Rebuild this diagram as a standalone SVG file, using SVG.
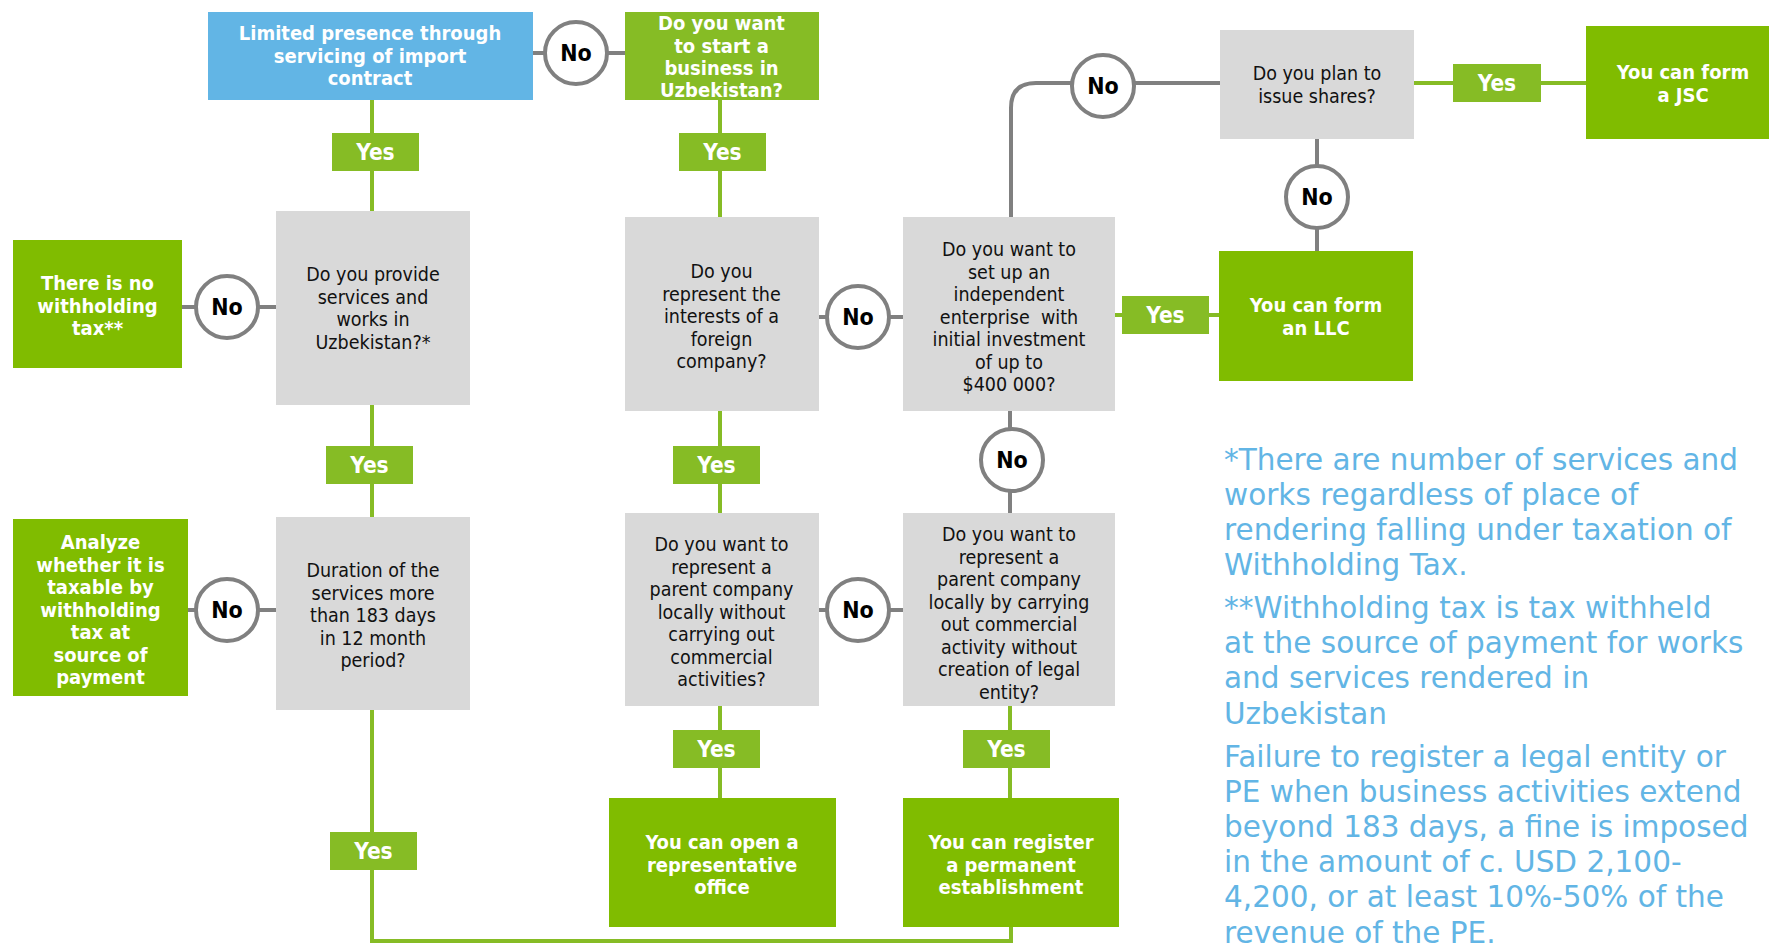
<svg xmlns="http://www.w3.org/2000/svg" width="1769" height="944" viewBox="0 0 1769 944">
<style>
.bg{fill:#ffffff}
.gq{fill:#D9D9D9}
.gr{fill:#80BC00}
.gl{fill:#86BC25}
.bl{fill:#62B5E5}
.lg{stroke:#808080;stroke-width:4;fill:none}
.lgn{stroke:#86BC25;stroke-width:4;fill:none}
.circ{fill:#ffffff;stroke:#808080;stroke-width:4}
.q{font-family:'DejaVu Sans Condensed','DejaVu Sans',sans-serif;font-size:19.5px;fill:#111111;text-anchor:middle}
.b{font-family:'DejaVu Sans Condensed','DejaVu Sans',sans-serif;font-weight:bold;font-size:20px;fill:#ffffff;text-anchor:middle}
.yes{font-family:'DejaVu Sans Condensed','DejaVu Sans',sans-serif;font-weight:bold;font-size:22.5px;fill:#ffffff;text-anchor:middle}
.no{font-family:'DejaVu Sans Condensed','DejaVu Sans',sans-serif;font-weight:bold;font-size:23px;fill:#000000;text-anchor:middle}
.note{font-family:'DejaVu Sans',sans-serif;font-size:29.5px;fill:#62B5E5}
</style>
<rect class="bg" x="0" y="0" width="1769" height="944"/>

<g id="connectors">
  <line class="lg" x1="533" y1="53" x2="625" y2="53"/>
  <line class="lgn" x1="372" y1="100" x2="372" y2="211"/>
  <line class="lgn" x1="720" y1="100" x2="720" y2="217"/>
  <line class="lg" x1="182" y1="307" x2="276" y2="307"/>
  <line class="lgn" x1="372" y1="405" x2="372" y2="517"/>
  <line class="lg" x1="188" y1="610" x2="276" y2="610"/>
  <path class="lgn" d="M372,710 V941 H1011 V927"/>
  <line class="lg" x1="818" y1="317" x2="903" y2="317"/>
  <path class="lg" d="M1011,217 V108 Q1011,83 1036,83 H1220"/>
  <line class="lgn" x1="1414" y1="83" x2="1586" y2="83"/>
  <line class="lg" x1="1317" y1="139" x2="1317" y2="251"/>
  <line class="lgn" x1="1115" y1="315" x2="1219" y2="315"/>
  <line class="lg" x1="1010" y1="411" x2="1010" y2="513"/>
  <line class="lgn" x1="720" y1="411" x2="720" y2="513"/>
  <line class="lg" x1="818" y1="610" x2="903" y2="610"/>
  <line class="lgn" x1="720" y1="706" x2="720" y2="798"/>
  <line class="lgn" x1="1010" y1="706" x2="1010" y2="798"/>

  <g id="no-a"><circle class="circ" cx="576" cy="53" r="31"/><text class="no" x="576" y="61">No</text></g>
  <g id="no-b"><circle class="circ" cx="227" cy="307" r="31"/><text class="no" x="227" y="315">No</text></g>
  <g id="no-c"><circle class="circ" cx="227" cy="610" r="31"/><text class="no" x="227" y="618">No</text></g>
  <g id="no-d"><circle class="circ" cx="858" cy="317" r="31"/><text class="no" x="858" y="325">No</text></g>
  <g id="no-e"><circle class="circ" cx="1103" cy="86" r="31"/><text class="no" x="1103" y="94">No</text></g>
  <g id="no-f"><circle class="circ" cx="1317" cy="197" r="31"/><text class="no" x="1317" y="205">No</text></g>
  <g id="no-g"><circle class="circ" cx="1012" cy="460" r="31"/><text class="no" x="1012" y="468">No</text></g>
  <g id="no-h"><circle class="circ" cx="858" cy="610" r="31"/><text class="no" x="858" y="618">No</text></g>

  <g id="yes-1"><rect class="gl" x="332" y="133" width="87" height="38"/><text class="yes" x="375.5" y="160">Yes</text></g>
  <g id="yes-2"><rect class="gl" x="679" y="133" width="87" height="38"/><text class="yes" x="722.5" y="160">Yes</text></g>
  <g id="yes-3"><rect class="gl" x="326" y="446" width="87" height="38"/><text class="yes" x="369.5" y="473">Yes</text></g>
  <g id="yes-4"><rect class="gl" x="330" y="832" width="87" height="38"/><text class="yes" x="373.5" y="859">Yes</text></g>
  <g id="yes-5"><rect class="gl" x="673" y="446" width="87" height="38"/><text class="yes" x="716.5" y="473">Yes</text></g>
  <g id="yes-6"><rect class="gl" x="673" y="730" width="87" height="38"/><text class="yes" x="716.5" y="757">Yes</text></g>
  <g id="yes-7"><rect class="gl" x="963" y="730" width="87" height="38"/><text class="yes" x="1006.5" y="757">Yes</text></g>
  <g id="yes-8"><rect class="gl" x="1122" y="296" width="87" height="38"/><text class="yes" x="1165.5" y="323">Yes</text></g>
  <g id="yes-9"><rect class="gl" x="1453" y="64" width="88" height="38"/><text class="yes" x="1497" y="91">Yes</text></g>
</g>

<g id="limited-presence">
  <rect class="bl" x="208" y="12" width="325" height="88"/>
  <text class="b" x="370" y="40">Limited presence through</text>
  <text class="b" x="370" y="62.5">servicing of import</text>
  <text class="b" x="370" y="85">contract</text>
</g>

<g id="start-business">
  <rect class="gl" x="625" y="12" width="194" height="88"/>
  <text class="b" x="721.5" y="30">Do you want</text>
  <text class="b" x="721.5" y="52.5">to start a</text>
  <text class="b" x="721.5" y="75">business in</text>
  <text class="b" x="721.5" y="97">Uzbekistan?</text>
</g>

<g id="no-withholding">
  <rect class="gr" x="13" y="240" width="169" height="128"/>
  <text class="b" x="97.5" y="290">There is no</text>
  <text class="b" x="97.5" y="312.5">withholding</text>
  <text class="b" x="97.5" y="335">tax**</text>
</g>

<g id="provide-services">
  <rect class="gq" x="276" y="211" width="194" height="194"/>
  <text class="q" x="373" y="281">Do you provide</text>
  <text class="q" x="373" y="303.5">services and</text>
  <text class="q" x="373" y="326">works in</text>
  <text class="q" x="373" y="348.5">Uzbekistan?*</text>
</g>

<g id="duration">
  <rect class="gq" x="276" y="517" width="194" height="193"/>
  <text class="q" x="373" y="577">Duration of the</text>
  <text class="q" x="373" y="599.5">services more</text>
  <text class="q" x="373" y="622">than 183 days</text>
  <text class="q" x="373" y="644.5">in 12 month</text>
  <text class="q" x="373" y="667">period?</text>
</g>

<g id="analyze">
  <rect class="gr" x="13" y="519" width="175" height="177"/>
  <text class="b" x="100.5" y="549">Analyze</text>
  <text class="b" x="100.5" y="571.5">whether it is</text>
  <text class="b" x="100.5" y="594">taxable by</text>
  <text class="b" x="100.5" y="616.5">withholding</text>
  <text class="b" x="100.5" y="639">tax at</text>
  <text class="b" x="100.5" y="661.5">source of</text>
  <text class="b" x="100.5" y="684">payment</text>
</g>

<g id="represent-interests">
  <rect class="gq" x="625" y="217" width="194" height="194"/>
  <text class="q" x="721.5" y="278">Do you</text>
  <text class="q" x="721.5" y="300.5">represent the</text>
  <text class="q" x="721.5" y="323">interests of a</text>
  <text class="q" x="721.5" y="345.5">foreign</text>
  <text class="q" x="721.5" y="368">company?</text>
</g>

<g id="independent-enterprise">
  <rect class="gq" x="903" y="217" width="212" height="194"/>
  <text class="q" x="1009" y="256">Do you want to</text>
  <text class="q" x="1009" y="278.5">set up an</text>
  <text class="q" x="1009" y="301">independent</text>
  <text class="q" x="1009" y="323.5" xml:space="preserve">enterprise  with</text>
  <text class="q" x="1009" y="346">initial investment</text>
  <text class="q" x="1009" y="368.5">of up to</text>
  <text class="q" x="1009" y="391">$400 000?</text>
</g>

<g id="issue-shares">
  <rect class="gq" x="1220" y="30" width="194" height="109"/>
  <text class="q" x="1317" y="80">Do you plan to</text>
  <text class="q" x="1317" y="102.5">issue shares?</text>
</g>

<g id="form-jsc">
  <rect class="gr" x="1586" y="26" width="183" height="113"/>
  <text class="b" x="1683" y="79">You can form</text>
  <text class="b" x="1683" y="101.5">a JSC</text>
</g>

<g id="form-llc">
  <rect class="gr" x="1219" y="251" width="194" height="130"/>
  <text class="b" x="1316" y="312">You can form</text>
  <text class="b" x="1316" y="334.5">an LLC</text>
</g>

<g id="parent-without-commercial">
  <rect class="gq" x="625" y="513" width="194" height="193"/>
  <text class="q" x="721.5" y="551">Do you want to</text>
  <text class="q" x="721.5" y="573.5">represent a</text>
  <text class="q" x="721.5" y="596">parent company</text>
  <text class="q" x="721.5" y="618.5">locally without</text>
  <text class="q" x="721.5" y="641">carrying out</text>
  <text class="q" x="721.5" y="663.5">commercial</text>
  <text class="q" x="721.5" y="686">activities?</text>
</g>

<g id="parent-with-commercial">
  <rect class="gq" x="903" y="513" width="212" height="193"/>
  <text class="q" x="1009" y="541">Do you want to</text>
  <text class="q" x="1009" y="563.5">represent a</text>
  <text class="q" x="1009" y="586">parent company</text>
  <text class="q" x="1009" y="608.5">locally by carrying</text>
  <text class="q" x="1009" y="631">out commercial</text>
  <text class="q" x="1009" y="653.5">activity without</text>
  <text class="q" x="1009" y="676">creation of legal</text>
  <text class="q" x="1009" y="698.5">entity?</text>
</g>

<g id="representative-office">
  <rect class="gr" x="609" y="798" width="227" height="129"/>
  <text class="b" x="722" y="849">You can open a</text>
  <text class="b" x="722" y="871.5">representative</text>
  <text class="b" x="722" y="894">office</text>
</g>

<g id="permanent-establishment">
  <rect class="gr" x="903" y="798" width="216" height="129"/>
  <text class="b" x="1011" y="849">You can register</text>
  <text class="b" x="1011" y="871.5">a permanent</text>
  <text class="b" x="1011" y="894">establishment</text>
</g>

<g id="notes">
  <text class="note" x="1224" y="470">*There are number of services and</text>
  <text class="note" x="1224" y="505">works regardless of place of</text>
  <text class="note" x="1224" y="540">rendering falling under taxation of</text>
  <text class="note" x="1224" y="575">Withholding Tax.</text>
  <text class="note" x="1224" y="618">**Withholding tax is tax withheld</text>
  <text class="note" x="1224" y="653">at the source of payment for works</text>
  <text class="note" x="1224" y="688">and services rendered in</text>
  <text class="note" x="1224" y="724">Uzbekistan</text>
  <text class="note" x="1224" y="767">Failure to register a legal entity or</text>
  <text class="note" x="1224" y="802">PE when business activities extend</text>
  <text class="note" x="1224" y="837">beyond 183 days, a fine is imposed</text>
  <text class="note" x="1224" y="872">in the amount of c. USD 2,100-</text>
  <text class="note" x="1224" y="907">4,200, or at least 10%-50% of the</text>
  <text class="note" x="1224" y="943">revenue of the PE.</text>
</g>
</svg>
